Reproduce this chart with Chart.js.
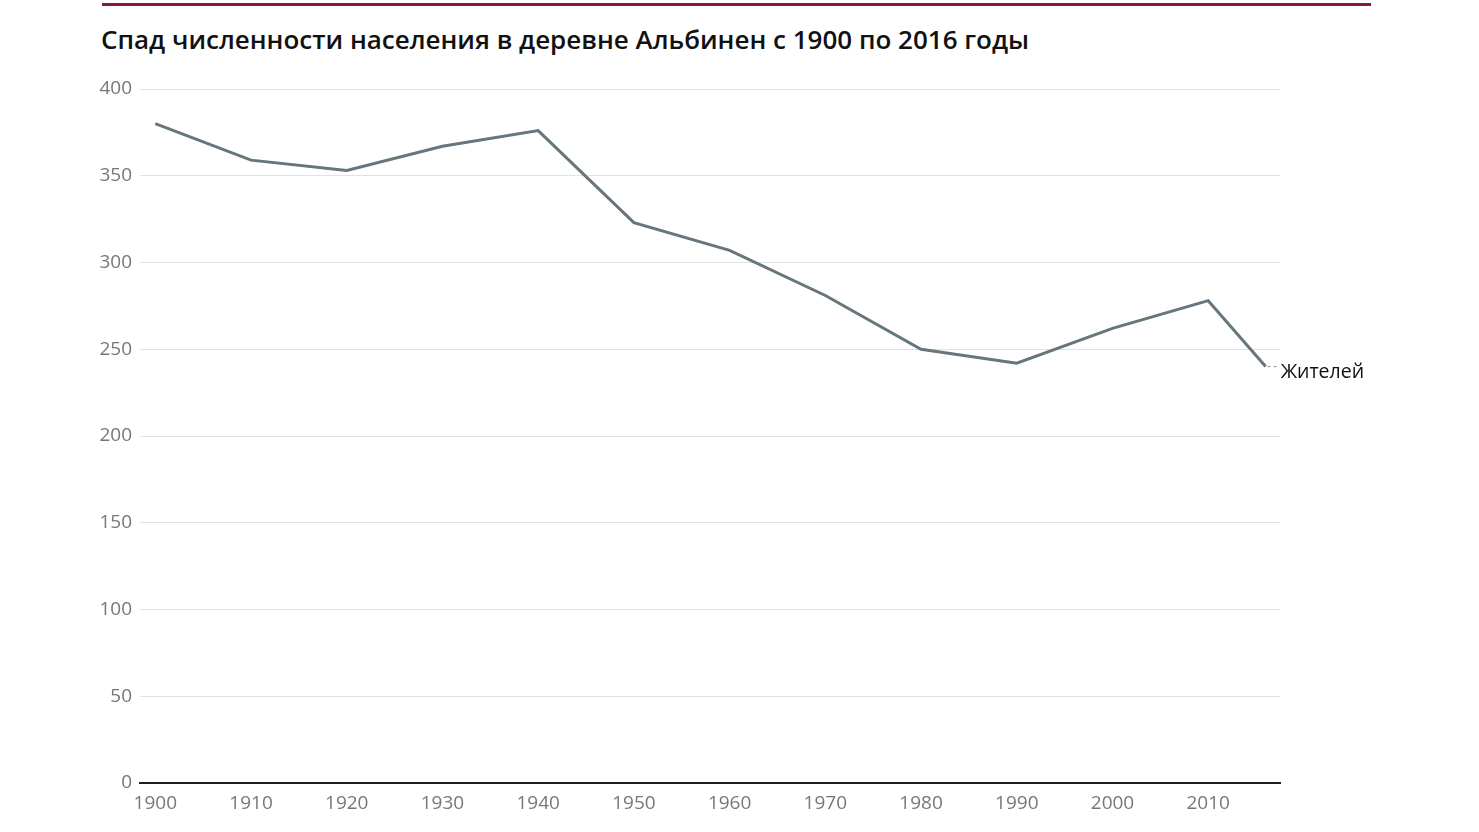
<!DOCTYPE html>
<html lang="ru">
<head>
<meta charset="utf-8">
<title>Альбинен</title>
<script src="https://cdn.jsdelivr.net/npm/chart.js@4"></script>
<style>
    html, body { margin: 0; padding: 0; background: #fff; }
    body { width: 1479px; height: 832px; position: relative; overflow: hidden; font-family: "Open Sans", sans-serif; }
    .rule { position: absolute; left: 102px; top: 3px; width: 1269px; height: 3px; background: #861c34; }
    h1 { position: absolute; left: 101px; top: 21px; margin: 0; font-size: 26px; font-weight: 600; color: #111; white-space: nowrap; }
    #wrap { position: absolute; left: 0; top: 0; width: 1479px; height: 832px; }
</style>
</head>
<body>
<div class="rule"></div>
<h1 id="title">Спад численности населения в деревне Альбинен с 1900 по 2016 годы</h1>
<div id="wrap"><canvas id="chart"></canvas></div>
<script>
// data
const years = [1900, 1910, 1920, 1930, 1940, 1950, 1960, 1970, 1980, 1990, 2000, 2010, 2016];
const residents = [380, 359, 353, 367, 376, 323, 307, 281, 250, 242, 262, 278, 240];
const xTicks = [1900, 1910, 1920, 1930, 1940, 1950, 1960, 1970, 1980, 1990, 2000, 2010];
const yTicks = [0, 50, 100, 150, 200, 250, 300, 350, 400];
const seriesLabel = 'Жителей';

const font = '"Open Sans", sans-serif';

// label at the end of the line
const endLabel = {
    id: 'endLabel',
    afterDatasetsDraw(chart) {
        const meta = chart.getDatasetMeta(0);
        const last = meta.data[meta.data.length - 1];
        const ctx = chart.ctx;
        ctx.save();
        ctx.strokeStyle = '#8a9599';
        ctx.lineWidth = 1;
        ctx.setLineDash([3, 3]);
        ctx.beginPath();
        ctx.moveTo(last.x + 2, last.y);
        ctx.lineTo(last.x + 11, last.y);
        ctx.stroke();
        ctx.setLineDash([]);
        ctx.fillStyle = '#111';
        ctx.font = '19.5px ' + font;
        ctx.textBaseline = 'middle';
        ctx.fillText(seriesLabel, last.x + 15, last.y + 6);
        ctx.restore();
    }
};

const ctx = document.getElementById('chart').getContext('2d');
const chart = new Chart(ctx, {
    type: 'line',
    data: {
        datasets: [{
            label: seriesLabel,
            data: years.map((y, i) => ({ x: y, y: residents[i] })),
            borderColor: '#66767c',
            borderWidth: 3,
            pointRadius: 0,
            tension: 0,
            fill: false
        }]
    },
    options: {
        responsive: true,
        maintainAspectRatio: false,
        animation: false,
        layout: { padding: { left: 0, right: 199, top: 89, bottom: 0 } },
        plugins: { legend: { display: false }, tooltip: { enabled: false } },
        scales: {
            x: {
                type: 'linear',
                min: 1898.4,
                max: 2017.5,
                afterBuildTicks: scale => { scale.ticks = xTicks.map(v => ({ value: v })); },
                afterFit: scale => { scale.height = 49; },
                grid: { display: false },
                border: { display: true, color: '#1e1e1e', width: 2 },
                ticks: {
                    color: '#777',
                    font: { family: font, size: 19 },
                    padding: 1,
                    maxRotation: 0,
                    autoSkip: false,
                    callback: v => String(v)
                }
            },
            y: {
                min: 0,
                max: 400,
                afterBuildTicks: scale => { scale.ticks = yTicks.map(v => ({ value: v })); },
                afterFit: scale => { scale.width = 140; },
                grid: { color: '#e2e2e2', lineWidth: 1, drawTicks: false },
                border: { display: false },
                ticks: {
                    color: '#777',
                    font: { family: font, size: 19 },
                    padding: 8
                }
            }
        }
    },
    plugins: [endLabel]
});
</script>
</body>
</html>
